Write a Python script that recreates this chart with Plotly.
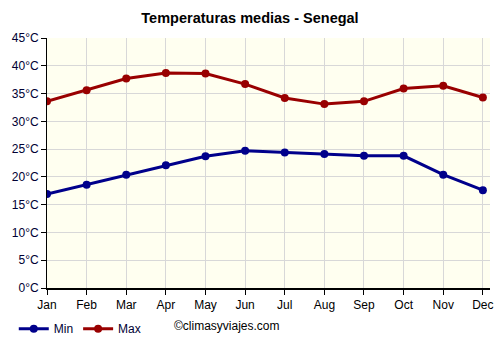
import plotly.graph_objects as go

months = ["Jan", "Feb", "Mar", "Apr", "May", "Jun", "Jul", "Aug", "Sep", "Oct", "Nov", "Dec"]
t_min = [16.9, 18.6, 20.4, 22.1, 23.7, 24.7, 24.4, 24.1, 23.8, 23.8, 20.4, 17.6]
t_max = [33.6, 35.6, 37.7, 38.7, 38.6, 36.7, 34.2, 33.1, 33.6, 35.9, 36.4, 34.3]
y_ticks = list(range(0, 50, 5))
y_labels = [f"{v}°C" for v in y_ticks]

fig = go.Figure()
fig.add_trace(go.Scatter(x=months, y=t_min, name="Min", mode="lines+markers",
                         line=dict(color="#00008B", width=3), marker=dict(size=8, color="#00008B")))
fig.add_trace(go.Scatter(x=months, y=t_max, name="Max", mode="lines+markers",
                         line=dict(color="#990000", width=3), marker=dict(size=8, color="#990000")))

fig.update_layout(
    width=500, height=350,
    margin=dict(l=47, r=10, t=38, b=62, autoexpand=False),
    paper_bgcolor="white", plot_bgcolor="#FFFFF0",
    font=dict(family="Liberation Sans, Arial, sans-serif", size=12, color="#000000"),
    title=dict(text="<b>Temperaturas medias - Senegal</b>", x=0.5, xanchor="center",
               y=1 - 18 / 350, yanchor="middle", font=dict(size=14.5, color="black")),
    showlegend=True,
    legend=dict(orientation="h", x=-0.075, xanchor="left", y=-0.105, yanchor="top",
                font=dict(size=12, color="#000033"), itemwidth=30, tracegroupgap=0,
                bgcolor="rgba(0,0,0,0)"),
    xaxis=dict(type="category", range=[0, 11.18], showgrid=True, gridcolor="#D8D8D8",
               showline=True, linecolor="black", linewidth=2, ticks="outside", ticklen=5,
               tickcolor="black", mirror=False, zeroline=False,
               tickfont=dict(size=12, color="#000000")),
    yaxis=dict(range=[0, 45], tickvals=y_ticks, ticktext=y_labels, showgrid=True,
               gridcolor="#D8D8D8", showline=True, linecolor="black", linewidth=1,
               ticks="outside", ticklen=5, tickcolor="black", zeroline=False,
               tickfont=dict(size=12, color="#000033")),
    annotations=[dict(text="©climasyviajes.com", x=(172 - 47) / 443, y=(288 - 326) / 250,
                      xref="paper", yref="paper", xanchor="left", yanchor="middle",
                      showarrow=False, font=dict(size=12, color="#000000"))],
)

fig.write_html("out.html")
